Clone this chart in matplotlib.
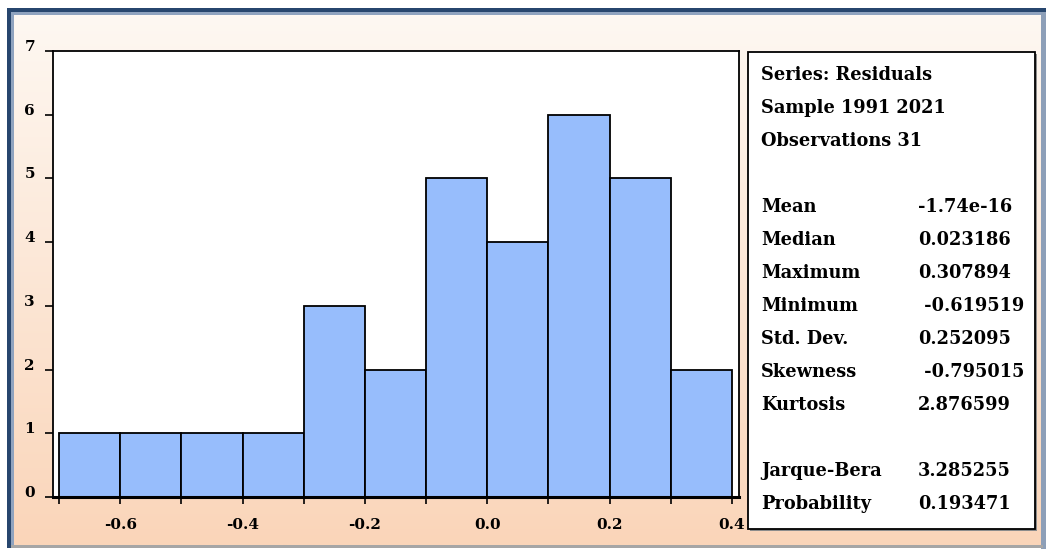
import numpy as np
import matplotlib
matplotlib.use("Agg")
import matplotlib.pyplot as plt
from matplotlib.patches import Rectangle

# histogram of residuals
bin_edges = [-0.7, -0.6, -0.5, -0.4, -0.3, -0.2, -0.1, 0.0, 0.1, 0.2, 0.3, 0.4]
counts = [1, 1, 1, 1, 3, 2, 5, 4, 6, 5, 2]
xtick_labels = ["", "-0.6", "", "-0.4", "", "-0.2", "", "0.0", "", "0.2", "", "0.4"]
yticks = [0, 1, 2, 3, 4, 5, 6, 7]

header_lines = ["Series: Residuals", "Sample 1991 2021", "Observations 31"]
stat_labels = ["Mean", "Median", "Maximum", "Minimum", "Std. Dev.", "Skewness", "Kurtosis",
               None, "Jarque-Bera", "Probability"]
stat_values = ["-1.74e-16", "0.023186", "0.307894", " -0.619519", "0.252095", " -0.795015",
               "2.876599", None, "3.285255", "0.193471"]

W, H = 1046, 549
font = ["DejaVu Serif"]
bar_color = "#97bdfc"

fig = plt.figure(figsize=(W / 100, H / 100), dpi=100)
fig.patch.set_facecolor("white")

# background layer in pixel coordinates
bg = fig.add_axes([0, 0, 1, 1])
bg.set_xlim(0, W)
bg.set_ylim(H, 0)
bg.axis("off")

top_c = np.array([254, 248, 242]) / 255
bot_c = np.array([250, 213, 185]) / 255
t = np.linspace(0, 1, 256)[:, None]
grad = (top_c * (1 - t) + bot_c * t)[:, None, :]
bg.imshow(grad, extent=(14, 1042, 545, 15), aspect="auto", zorder=0)

# window frame
bg.add_patch(Rectangle((7, 8), 7, 540, color="#27466e", lw=0, zorder=1))
bg.add_patch(Rectangle((7, 8), 1039, 7, color="#27466e", lw=0, zorder=1))
bg.add_patch(Rectangle((11, 12), 3, 535, color="#8fa3bf", lw=0, zorder=1))
bg.add_patch(Rectangle((11, 12), 1033, 3, color="#8fa3bf", lw=0, zorder=1))
bg.add_patch(Rectangle((1041, 12), 5, 537, color="#8d9fb8", lw=0, zorder=1))
bg.add_patch(Rectangle((11, 545), 1032, 3, color="#a6a6a6", lw=0, zorder=1))

# statistics box
bg.add_patch(Rectangle((750, 54), 287, 477, color="#8c8c8c", lw=0, zorder=2))
bg.add_patch(Rectangle((748, 52), 287, 477, facecolor="white", edgecolor="black",
                       lw=1.3, zorder=3))
row_h = 33
base0 = 80
fs = 12.8
for i, line in enumerate(header_lines):
    bg.text(761, base0 + i * row_h, line, fontsize=fs, fontweight="bold",
            family=font, va="baseline", ha="left", zorder=4)
for i, (lab, val) in enumerate(zip(stat_labels, stat_values)):
    if lab is None:
        continue
    y = base0 + (i + 4) * row_h
    bg.text(761, y, lab, fontsize=fs, fontweight="bold", family=font,
            va="baseline", ha="left", zorder=4)
    bg.text(918, y, val, fontsize=fs, fontweight="bold", family=font,
            va="baseline", ha="left", zorder=4)

# histogram axes
ax_l, ax_r, ax_t, ax_b = 53, 739, 51, 497
ax = fig.add_axes([ax_l / W, (H - ax_b) / H, (ax_r - ax_l) / W, (ax_b - ax_t) / H])
ax.set_facecolor("white")
ax.bar(bin_edges[:-1], counts, width=np.diff(bin_edges), align="edge",
       color=bar_color, edgecolor="black", linewidth=1.3)
px = 0.1 / 61.18
ax.set_xlim(bin_edges[0] - 6 * px, bin_edges[-1] + 7 * px)
ax.set_ylim(0, 7)
ax.set_xticks(bin_edges)
ax.set_xticklabels(xtick_labels)
ax.set_yticks(yticks)
ax.set_yticklabels([str(v) for v in yticks])
for s in ax.spines.values():
    s.set_linewidth(1.3)
ax.spines["bottom"].set_linewidth(2.2)
ax.tick_params(axis="x", direction="out", length=5, width=1.2, pad=10)
ax.tick_params(axis="y", direction="out", length=6, width=1.2, pad=7)
for lbl in ax.get_xticklabels() + ax.get_yticklabels():
    lbl.set_fontfamily(font)
    lbl.set_fontweight("bold")
    lbl.set_fontsize(11)
for lbl in ax.get_yticklabels():
    lbl.set_verticalalignment("baseline")

fig.savefig("out.png", dpi=100)
